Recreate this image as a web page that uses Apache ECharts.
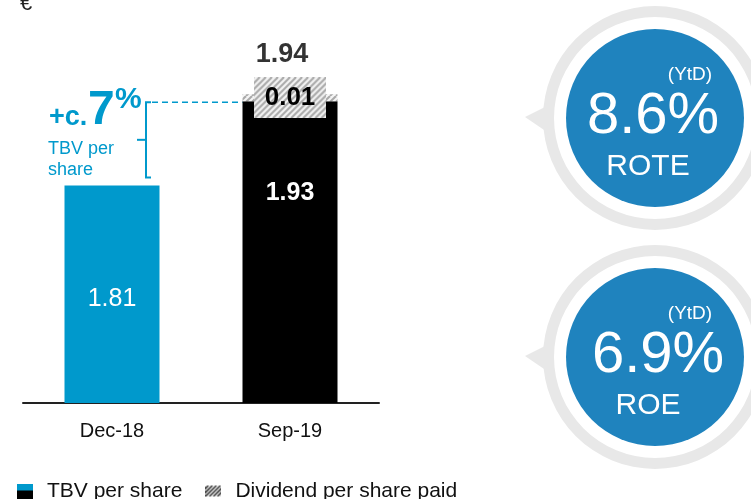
<!DOCTYPE html>
<html>
<head>
<meta charset="utf-8">
<script src="https://cdn.jsdelivr.net/npm/echarts@6/dist/echarts.min.js"></script>
<style>
  html, body { margin: 0; padding: 0; background: #fff; }
  #chart { width: 751px; height: 499px; }
</style>
</head>
<body>
<div id="chart"></div>
<script>
const categories = ['Dec-18', 'Sep-19']
const tbvValues = [1.81, 1.93]
const dividendValues = [null, 0.01]
const totalValues = [null, 1.94]
const growthText = ['+c.', '7', '%']
const growthNote = ['TBV per', 'share']
const kpiNotes = ['(YtD)', '(YtD)']
const kpiValues = ['8.6%', '6.9%']
const kpiNames = ['ROTE', 'ROE']

const FONT = "'Liberation Sans', Arial, sans-serif"
const BLUE = '#0099cc'
const KPI_BLUE = '#1f83be'
const RING = '#e8e8e8'

function hatchCanvas (w, h, step, lw, bg, fg) {
  const c = document.createElement('canvas')
  c.width = w
  c.height = h
  const g = c.getContext('2d')
  if (bg) {
    g.fillStyle = bg
    g.fillRect(0, 0, w, h)
  }
  g.strokeStyle = fg
  g.lineWidth = lw
  for (let k = -h - step; k < w + h + step; k += step) {
    g.beginPath()
    g.moveTo(k, h)
    g.lineTo(k + h, 0)
    g.stroke()
  }
  return c
}

const hatchTile = hatchCanvas(6, 6, 6, 2, '#f4f4f4', '#a9a9a9')
const labelBg = hatchCanvas(72, 41, 6, 2, '#f4f4f4', '#a9a9a9')

// legend icons
const tbvIcon = (() => {
  const c = document.createElement('canvas')
  c.width = 16
  c.height = 16
  const g = c.getContext('2d')
  g.fillStyle = BLUE
  g.fillRect(0, 0, 16, 7)
  g.fillStyle = '#000'
  g.fillRect(0, 7, 16, 9)
  return c.toDataURL()
})()
const divIcon = (() => {
  const c = document.createElement('canvas')
  c.width = 16
  c.height = 16
  const g = c.getContext('2d')
  g.strokeStyle = '#333'
  g.lineWidth = 1.6
  for (let k = -8; k < 24; k += 4) {
    g.beginPath()
    g.moveTo(k, 13)
    g.lineTo(k + 11, 2)
    g.stroke()
  }
  g.clearRect(0, 0, 16, 2)
  g.clearRect(0, 13, 16, 3)
  return c.toDataURL()
})()

const chart = echarts.init(document.getElementById('chart'))

chart.setOption({
  animation: false,
  textStyle: { fontFamily: FONT },
  title: {
    text: '€',
    left: 15,
    top: -12,
    textStyle: { fontSize: 22, fontWeight: 'normal', color: '#222', fontFamily: FONT }
  },
  grid: { left: 23, right: 372, top: 17, bottom: 96, containLabel: false },
  legend: {
    left: 17,
    top: 481,
    padding: 0,
    itemWidth: 16,
    itemHeight: 16,
    itemGap: 23,
    textStyle: { fontSize: 21, color: '#111', fontFamily: FONT, padding: [0, 0, 0, 9] },
    data: [
      { name: 'TBV per share', icon: 'image://' + tbvIcon },
      { name: 'Dividend per share paid', icon: 'image://' + divIcon }
    ]
  },
  xAxis: {
    type: 'category',
    data: categories,
    axisLine: { lineStyle: { color: '#222', width: 2 } },
    axisTick: { show: false },
    axisLabel: { color: '#111', fontSize: 20, margin: 18, fontFamily: FONT }
  },
  yAxis: {
    type: 'value',
    min: 1.5,
    max: 2.05,
    show: false,
    splitLine: { show: false }
  },
  series: [
    {
      name: 'TBV per share',
      type: 'bar',
      stack: 'tbv',
      barWidth: 95,
      clip: true,
      data: tbvValues.map((v, i) => ({
        value: v,
        itemStyle: { color: i === 0 ? BLUE : '#000' },
        label: i === 0
          ? { show: true, position: 'inside', offset: [0, 5], color: '#fff', fontSize: 25, fontWeight: 'normal' }
          : { show: true, position: ['50%', 92], align: 'center', verticalAlign: 'middle', color: '#fff', fontSize: 25, fontWeight: 'bold' }
      })),
      label: { fontFamily: FONT, formatter: ({ value }) => value.toFixed(2) }
    },
    {
      name: 'Dividend per share paid',
      type: 'bar',
      stack: 'tbv',
      barWidth: 95,
      data: dividendValues,
      itemStyle: { color: { image: hatchTile, repeat: 'repeat' } },
      label: {
        show: true,
        position: 'inside',
        color: '#000',
        fontSize: 26,
        fontWeight: 'bold',
        fontFamily: FONT,
        lineHeight: 25,
        padding: [8, 11, 8, 11],
        backgroundColor: { image: labelBg },
        formatter: ({ value }) => value.toFixed(2)
      }
    },
    {
      name: 'Total',
      type: 'scatter',
      symbolSize: 0,
      data: totalValues,
      label: {
        show: true,
        position: 'top',
        distance: 26,
        offset: [-8, 0],
        color: '#000',
        fontSize: 27,
        fontWeight: 'bold',
        fontFamily: FONT,
        formatter: ({ value }) => value.toFixed(2)
      }
    }
  ]
})

// annotation (bracket + growth text) and KPI badges
const pTop = chart.convertToPixel({ xAxisIndex: 0, yAxisIndex: 0 }, [0, tbvValues[1]])
const pLow = chart.convertToPixel({ xAxisIndex: 0, yAxisIndex: 0 }, [0, tbvValues[0]])
const pRight = chart.convertToPixel({ xAxisIndex: 0, yAxisIndex: 0 }, [1, tbvValues[1]])
const bx = pTop[0] + 34
const braceTop = pTop[1] + 1
const braceBottom = pLow[1] - 8
const braceMid = (braceTop + braceBottom) / 2
const barLeft = pRight[0] - 47.5

function txt (x, y, text, size, weight, color, align) {
  return {
    type: 'text',
    x,
    y,
    z: 100,
    style: {
      text,
      fill: color,
      font: `${weight} ${size}px ${FONT}`,
      align: align || 'center',
      textAlign: align || 'center',
      verticalAlign: 'middle',
      textVerticalAlign: 'middle'
    }
  }
}

const graphics = [
  {
    type: 'polyline',
    shape: { points: [[bx + 5, braceTop], [bx, braceTop], [bx, braceBottom], [bx + 5, braceBottom]] },
    style: { stroke: BLUE, lineWidth: 2, fill: null }
  },
  {
    type: 'line',
    shape: { x1: bx - 9, y1: braceMid, x2: bx, y2: braceMid },
    style: { stroke: BLUE, lineWidth: 2 }
  },
  {
    type: 'line',
    shape: { x1: bx + 6, y1: braceTop, x2: barLeft, y2: braceTop },
    style: { stroke: BLUE, lineWidth: 1.6, lineDash: [6, 4] }
  },
  txt(49, 118, growthText[0], 27, 'bold', BLUE, 'left'),
  txt(88, 111, growthText[1], 48, 'bold', BLUE, 'left'),
  txt(115, 100, growthText[2], 30, 'bold', BLUE, 'left'),
  txt(48, 149, growthNote[0], 18, 'normal', BLUE, 'left'),
  txt(48, 170, growthNote[1], 18, 'normal', BLUE, 'left')
]

kpiValues.forEach((val, i) => {
  const cx = 655
  const cy = 118 + i * 239
  graphics.push(
    { type: 'ring', shape: { cx, cy, r: 112, r0: 101 }, style: { fill: RING } },
    { type: 'polygon', shape: { points: [[cx - 130, cy - 1], [cx - 108, cy - 12], [cx - 108, cy + 14]] }, style: { fill: RING } },
    { type: 'circle', shape: { cx, cy, r: 89 }, style: { fill: KPI_BLUE } },
    txt(cx + 35, cy - 43, kpiNotes[i], 19, 'normal', '#fff'),
    txt(cx - 2 + i * 5, cy - 1, val, 58, 'normal', '#fff'),
    txt(cx - 7, cy + 49, kpiNames[i], 30, 'normal', '#fff')
  )
})

chart.setOption({ graphic: graphics })
</script>
</body>
</html>
